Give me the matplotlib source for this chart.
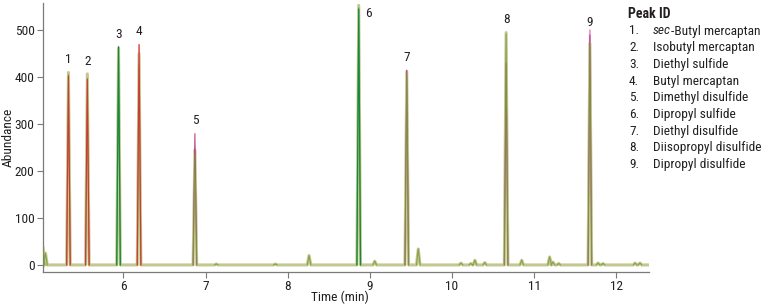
import matplotlib
matplotlib.use('Agg')
import matplotlib.pyplot as plt
from matplotlib import font_manager

# main peaks (retention time, min)
peak_times = [5.33, 5.56, 5.94, 6.19, 6.87, 8.865, 9.45, 10.66, 11.68]
peak_labels = ['1', '2', '3', '4', '5', '6', '7', '8', '9']

# apex abundance of each overlaid trace at the main peaks (0 = no peak)
khaki = [410, 407, 462, 450, 245, 553, 412, 495, 472]
olive = [405, 398, 440, 425, 235, 548, 405, 492, 470]
dark_green = [0, 0, 465, 0, 0, 545, 0, 0, 0]
red = [402, 395, 0, 470, 0, 0, 0, 0, 0]
pink = [335, 330, 0, 468, 0, 0, 0, 0, 0]
magenta = [0, 0, 0, 0, 280, 0, 415, 430, 490]
light_pink = [0, 0, 0, 0, 0, 0, 0, 0, 500]

# small peaks
minor_times = [5.02, 5.05, 7.13, 7.85, 8.26, 9.06, 9.59, 10.11, 10.23,
               10.28, 10.40, 10.85, 11.19, 11.23, 11.30, 11.78, 11.84,
               12.23, 12.29]
minor_heights = [38, 25, 2, 2, 20, 8, 34, 4, 3, 10, 5, 10, 17, 6, 3, 4, 3,
                 4, 4]

legend_names = ['sec-Butyl mercaptan', 'Isobutyl mercaptan', 'Diethyl sulfide',
                'Butyl mercaptan', 'Dimethyl disulfide', 'Dipropyl sulfide',
                'Diethyl disulfide', 'Diisopropyl disulfide',
                'Dipropyl disulfide']

names = {f.name for f in font_manager.fontManager.ttflist}
for fam in ['Liberation Sans Narrow', 'Roboto Condensed', 'Liberation Sans']:
    if fam in names:
        break
plt.rcParams['font.family'] = [fam, 'DejaVu Sans']
TXT = '#231f20'
FS = 9.6

T0, T1 = 5.02, 12.40
HW = 0.022  # half width of a peak at its base


def trace(times, heights, with_minor=False, baseline=False):
    pts = [(t, h) for t, h in zip(times, heights) if h > 0]
    if with_minor:
        pts += list(zip(minor_times, minor_heights))
    pts.sort()
    xs, ys = ([T0], [0]) if baseline else ([], [])
    for t, h in pts:
        xs += [t - HW, t, t + HW]
        ys += [0, h, 0]
        if not baseline:
            xs.append(float('nan'))
            ys.append(float('nan'))
    if baseline:
        xs.append(T1)
        ys.append(0)
    return xs, ys


fig = plt.figure(figsize=(7.65, 3.08), dpi=100)
ax = fig.add_axes([43 / 765, 36.5 / 308, (649 - 43) / 765, (305 - 36.5) / 308])

ax.plot(*trace(peak_times, light_pink), color='#e6a2d4', lw=1.4, zorder=1)
ax.plot(*trace(peak_times, khaki, True, True), color='#c4c890', lw=2.2, zorder=2)
ax.plot(*trace(peak_times, pink), color='#ef7f88', lw=0.8, alpha=0.9, zorder=3)
ax.plot(*trace(peak_times, magenta), color='#b2307f', lw=0.7, zorder=3)
ax.plot(*trace(peak_times, olive, True), color='#7c9c42', lw=0.8, alpha=0.85,
        zorder=4)
ax.plot(*trace(peak_times, dark_green), color='#158a3e', lw=0.9, zorder=5)
ax.plot(*trace(peak_times, red), color='#d2322e', lw=0.8, alpha=0.9, zorder=5)

# peak number labels
for i, (t, lab) in enumerate(zip(peak_times, peak_labels)):
    top = max(khaki[i], red[i], magenta[i], dark_green[i])
    if lab == '6':
        ax.text(8.94, 522, lab, ha='left', va='bottom', fontsize=FS, color=TXT)
    else:
        ax.text(t, top + 13, lab, ha='center', va='bottom', fontsize=FS,
                color=TXT)

ax.set_xlim(T0, T1)
ax.set_ylim(-14, 558)
ax.set_xticks([6, 7, 8, 9, 10, 11, 12])
ax.set_yticks([0, 100, 200, 300, 400, 500])
for s in ['top', 'right']:
    ax.spines[s].set_visible(False)
for s in ['left', 'bottom']:
    ax.spines[s].set_color('#7a7a7a')
    ax.spines[s].set_linewidth(0.9)
ax.tick_params(length=4, width=0.8, color='#7a7a7a', labelsize=FS,
               labelcolor=TXT, pad=2)
ax.set_xlabel('Time (min)', fontsize=FS, color=TXT)
ax.xaxis.set_label_coords(0.49, -0.072)
ax.set_ylabel('Abundance', fontsize=FS, color=TXT)
ax.yaxis.set_label_coords(-0.046, 0.5)

# peak ID list
fig.text(628 / 765, 1 - 14 / 308, 'Peak ID', fontsize=10, fontweight='bold',
         color=TXT, va='center')
for i, name in enumerate(legend_names):
    y = 1 - (31 + i * 16.7) / 308
    fig.text(629 / 765, y, f'{i + 1}.', fontsize=FS, color=TXT, va='center')
    if name.startswith('sec-'):
        t = fig.text(653 / 765, y, 'sec', fontsize=FS, style='italic',
                     color=TXT, va='center')
        fig.add_artist(matplotlib.text.Annotation(
            '-' + name[4:], xy=(1, 0.5), xycoords=t, fontsize=FS,
            color=TXT, va='center', ha='left'))
    else:
        fig.text(653 / 765, y, name, fontsize=FS, color=TXT, va='center')

fig.savefig('out.png', dpi=100)
